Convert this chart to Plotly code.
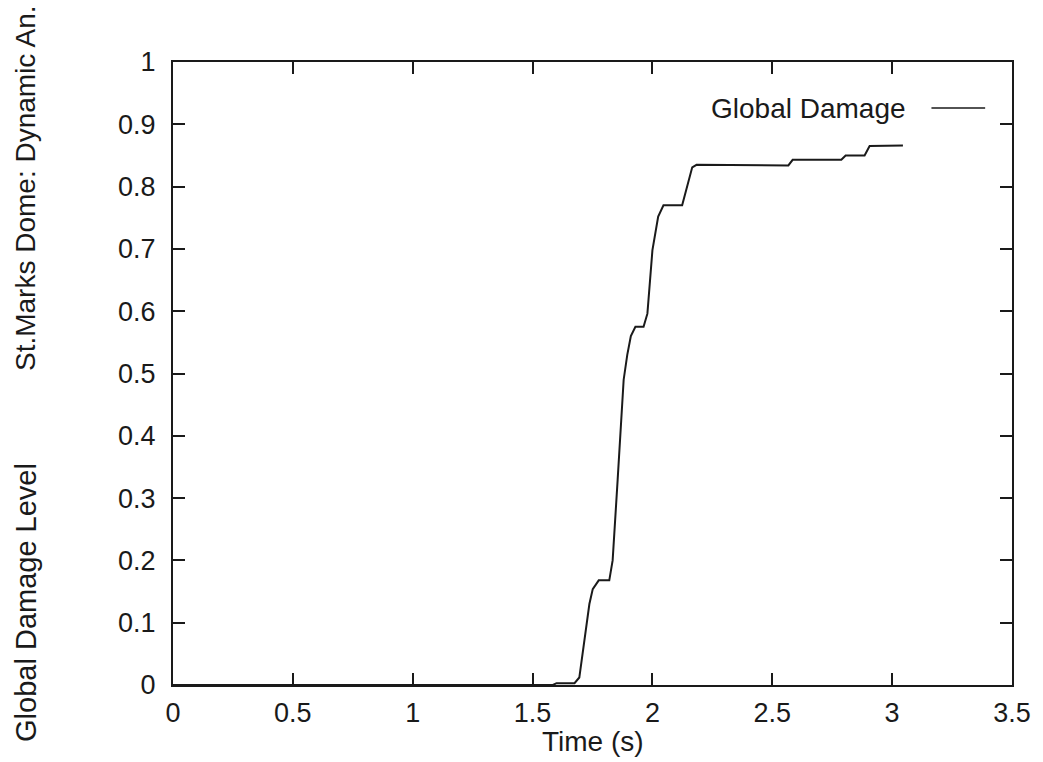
import plotly.graph_objects as go

# Data
time_s = [0.0, 1.585, 1.600, 1.675, 1.695, 1.737, 1.751, 1.776, 1.820, 1.834, 1.855,
          1.867, 1.880, 1.895, 1.910, 1.929, 1.963, 1.979, 2.000, 2.024, 2.046,
          2.124, 2.166, 2.184, 2.567, 2.585, 2.788, 2.806, 2.885, 2.906, 3.045]
damage = [0.0, 0.0, 0.003, 0.003, 0.012, 0.130, 0.154, 0.168, 0.168, 0.200, 0.330,
          0.400, 0.490, 0.530, 0.560, 0.575, 0.575, 0.596, 0.698, 0.752, 0.770,
          0.770, 0.831, 0.835, 0.834, 0.843, 0.843, 0.850, 0.850, 0.865, 0.866]

x_ticks = [0, 0.5, 1, 1.5, 2, 2.5, 3, 3.5]
x_tick_labels = ["0", "0.5", "1", "1.5", "2", "2.5", "3", "3.5"]
y_ticks = [0, 0.1, 0.2, 0.3, 0.4, 0.5, 0.6, 0.7, 0.8, 0.9, 1]
y_tick_labels = ["0", "0.1", "0.2", "0.3", "0.4", "0.5", "0.6", "0.7", "0.8", "0.9", "1"]

series_name = "Global Damage"
x_title = "Time (s)"
y_title_lower = "Global Damage Level"
y_title_upper = "St.Marks Dome: Dynamic An."

FONT = "Liberation Sans, Arial, Helvetica, sans-serif"
INK = "#1a1a1a"

fig = go.Figure()
fig.add_trace(go.Scatter(x=time_s, y=damage, mode="lines", name=series_name,
                         line=dict(color=INK, width=2), showlegend=False))

axis_common = dict(showgrid=False, zeroline=False, showline=True, linecolor=INK,
                   linewidth=2, mirror="ticks", ticks="inside", ticklen=12,
                   tickwidth=2, tickcolor=INK,
                   tickfont=dict(family=FONT, size=27, color=INK))

fig.update_layout(
    width=1043, height=762,
    margin=dict(l=173, r=27, t=62, b=77),
    paper_bgcolor="white", plot_bgcolor="white",
    xaxis=dict(range=[0, 3.5], tickvals=x_ticks, ticktext=x_tick_labels,
               ticklabelstandoff=3, **axis_common),
    yaxis=dict(range=[0, 1], tickvals=y_ticks, ticktext=y_tick_labels,
               ticklabelstandoff=10, **axis_common),
    annotations=[
        dict(text=x_title, xref="paper", yref="paper", x=0.5, y=-0.09,
             xanchor="center", yanchor="middle", showarrow=False,
             font=dict(family=FONT, size=28, color=INK)),
        dict(text=y_title_lower, xref="paper", yref="paper", x=-0.175, y=0.132,
             xanchor="center", yanchor="middle", showarrow=False, textangle=-90,
             font=dict(family=FONT, size=29, color=INK)),
        dict(text=y_title_upper, xref="paper", yref="paper", x=-0.175, y=0.798,
             xanchor="center", yanchor="middle", showarrow=False, textangle=-90,
             font=dict(family=FONT, size=28, color=INK)),
        dict(text=series_name, xref="paper", yref="paper", x=0.876, y=0.925,
             xanchor="right", yanchor="middle", showarrow=False,
             font=dict(family=FONT, size=28, color=INK)),
    ],
    shapes=[
        dict(type="line", xref="paper", yref="paper", x0=0.904, x1=0.968,
             y0=0.926, y1=0.926, line=dict(color=INK, width=1.5)),
    ],
)

fig.write_html("out.html")
